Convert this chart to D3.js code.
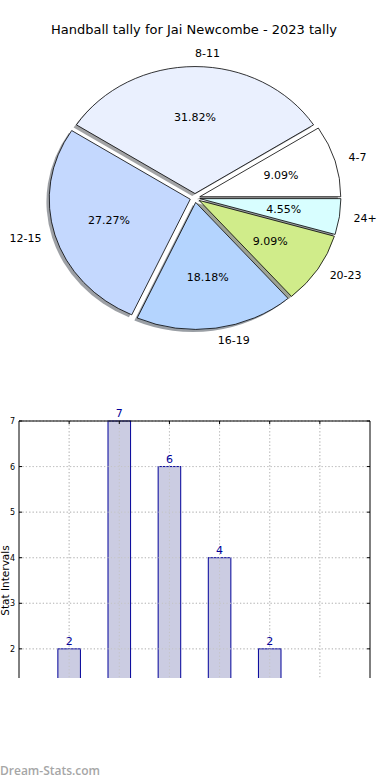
<!DOCTYPE html>
<html><head><meta charset="utf-8">
<script src="https://cdn.jsdelivr.net/npm/d3@7/dist/d3.min.js"></script>
<style>html,body{margin:0;padding:0;background:#fff;}svg{display:block;}</style>
</head><body>
<svg id="chart" width="390" height="780"></svg>
<script>
const title = "Handball tally for Jai Newcombe - 2023 tally";
const pieLabels = ["4-7", "8-11", "12-15", "16-19", "20-23", "24+"];
const pieValues = [2, 7, 6, 4, 2, 1];
const pieColors = ["#ffffff", "#eaf0fe", "#c4d8fe", "#b4d4fe", "#d0ec8a", "#d8feff"];
const barCategories = [0, 1, 2, 3, 4];
const barValues = [2, 7, 6, 4, 2];
const yTicks = [0, 1, 2, 3, 4, 5, 6, 7];
const xTicks = [0, 1, 2, 3, 4, 5];
const yLabel = "Stat Intervals";
const watermark = "Dream-Stats.com";

const svg = d3.select("#chart");
const font = "DejaVu Sans, sans-serif";

svg.append("text").attr("x", 194).attr("y", 34).attr("text-anchor", "middle")
  .attr("font-family", font).attr("font-size", 13).attr("fill", "#000").text(title);

// ---- Pie ----
const cx = 195, cy = 198, rx = 141, ry = 127, explode = 0.035;
const total = d3.sum(pieValues);
const pie = d3.pie().sort(null).startAngle(0).endAngle(2 * Math.PI);
const arcs = pie(pieValues).map((d, i) => {
  const t0 = d.startAngle, t1 = d.endAngle, tm = (t0 + t1) / 2; // math angles, CCW from east
  return {i, t0, t1, tm, ox: explode * rx * Math.cos(tm), oy: -explode * ry * Math.sin(tm)};
});
const arcGen = d3.arc().innerRadius(0).outerRadius(1);
function arcPath(a) { return arcGen({startAngle: Math.PI / 2 - a.t1, endAngle: Math.PI / 2 - a.t0}); }

const pieG = svg.append("g");
arcs.forEach(a => {
  const c = d3.rgb(pieColors[a.i]);
  pieG.append("path")
    .attr("transform", `translate(${cx + a.ox - 0.02 * rx},${cy + a.oy + 0.02 * ry}) scale(${rx},${ry})`)
    .attr("d", arcPath(a))
    .attr("fill", d3.rgb(c.r * 0.3, c.g * 0.3, c.b * 0.3)).attr("fill-opacity", 0.5)
    .attr("stroke", "none");
});
arcs.forEach(a => {
  pieG.append("path")
    .attr("transform", `translate(${cx + a.ox},${cy + a.oy}) scale(${rx},${ry})`)
    .attr("d", arcPath(a))
    .attr("fill", pieColors[a.i]).attr("stroke", "#000").attr("stroke-width", 0.8)
    .attr("vector-effect", "non-scaling-stroke").attr("stroke-linejoin", "round");
});
arcs.forEach(a => {
  const x0 = cx + a.ox, y0 = cy + a.oy;
  const c = Math.cos(a.tm), s = Math.sin(a.tm);
  pieG.append("text").attr("x", x0 + 1.1 * rx * c).attr("y", y0 - 1.1 * ry * s)
    .attr("text-anchor", c > 0 ? "start" : "end").attr("dominant-baseline", "central")
    .attr("font-family", font).attr("font-size", 11).attr("fill", "#000").text(pieLabels[a.i]);
  pieG.append("text").attr("x", x0 + 0.6 * rx * c).attr("y", y0 - 0.6 * ry * s)
    .attr("text-anchor", "middle").attr("dominant-baseline", "central")
    .attr("font-family", font).attr("font-size", 11).attr("fill", "#000")
    .text((pieValues[a.i] / total * 100).toFixed(2) + "%");
});

// ---- Bar chart ----
const L = 19, R = 370, T = 421, B = 740, clipB = 678;
const x = d3.scaleLinear().domain([-1, 6]).range([L, R]);
const y = d3.scaleLinear().domain([0, 7]).range([B, T]);
svg.append("defs").append("clipPath").attr("id", "clipB").append("rect")
  .attr("x", 0).attr("y", 0).attr("width", 390).attr("height", clipB);
const bg = svg.append("g").attr("clip-path", "url(#clipB)");

const gridColor = "#c4c4c4", gridDash = "1.2,2.2";
function grid(cls) {
  bg.selectAll("." + cls + "h").data(yTicks).enter().append("line")
    .attr("x1", L).attr("x2", R).attr("y1", d => y(d)).attr("y2", d => y(d))
    .attr("stroke", gridColor).attr("stroke-width", 1).attr("stroke-dasharray", gridDash);
  bg.selectAll("." + cls + "v").data(xTicks).enter().append("line")
    .attr("x1", d => x(d)).attr("x2", d => x(d)).attr("y1", T).attr("y2", B)
    .attr("stroke", gridColor).attr("stroke-width", 1).attr("stroke-dasharray", gridDash);
}
grid("g1");

const bw = 0.45;
bg.selectAll(".bar").data(barValues).enter().append("rect")
  .attr("x", (d, i) => x(barCategories[i] - bw / 2))
  .attr("width", x(bw) - x(0))
  .attr("y", d => y(d)).attr("height", d => y(0) - y(d))
  .attr("fill", "#cbcce2").attr("stroke", "#000099").attr("stroke-width", 1);
grid("g2");

bg.selectAll(".vl").data(barValues).enter().append("text")
  .attr("x", (d, i) => x(barCategories[i])).attr("y", d => y(d) - 4)
  .attr("text-anchor", "middle").attr("font-family", font).attr("font-size", 11)
  .attr("fill", "#000099").text(d => d);

bg.append("line").attr("x1", L).attr("x2", R).attr("y1", T).attr("y2", T).attr("stroke", "#000").attr("stroke-width", 1);
bg.append("line").attr("x1", L).attr("x2", L).attr("y1", T).attr("y2", B).attr("stroke", "#000").attr("stroke-width", 1);
bg.append("line").attr("x1", R).attr("x2", R).attr("y1", T).attr("y2", B).attr("stroke", "#000").attr("stroke-width", 1);

const yAxis = d3.axisLeft(y).tickValues(yTicks).tickSize(0).tickPadding(4).tickFormat(d3.format("d"));
const ya = bg.append("g").attr("transform", `translate(${L},0)`).call(yAxis);
ya.select(".domain").remove();
ya.selectAll("text").attr("font-family", font).attr("font-size", 8).attr("fill", "#000");
bg.selectAll(".ytl").data(yTicks).enter().append("line")
  .attr("x1", L).attr("x2", L + 3).attr("y1", d => y(d)).attr("y2", d => y(d)).attr("stroke", "#000");
bg.selectAll(".ytr").data(yTicks).enter().append("line")
  .attr("x1", R - 3).attr("x2", R).attr("y1", d => y(d)).attr("y2", d => y(d)).attr("stroke", "#000");
bg.selectAll(".xtt").data(xTicks).enter().append("line")
  .attr("x1", d => x(d)).attr("x2", d => x(d)).attr("y1", T).attr("y2", T + 3).attr("stroke", "#000");

svg.append("text").attr("transform", `translate(8.5,${(T + B) / 2}) rotate(-90)`)
  .attr("text-anchor", "middle").attr("font-family", font).attr("font-size", 10.5)
  .attr("fill", "#000").text(yLabel);

svg.append("text").attr("x", 0).attr("y", 775).attr("font-family", "Open Sans, sans-serif")
  .attr("font-size", 12).attr("font-weight", 600).attr("fill", "#a6a6a6").text(watermark);
</script>
</body></html>
